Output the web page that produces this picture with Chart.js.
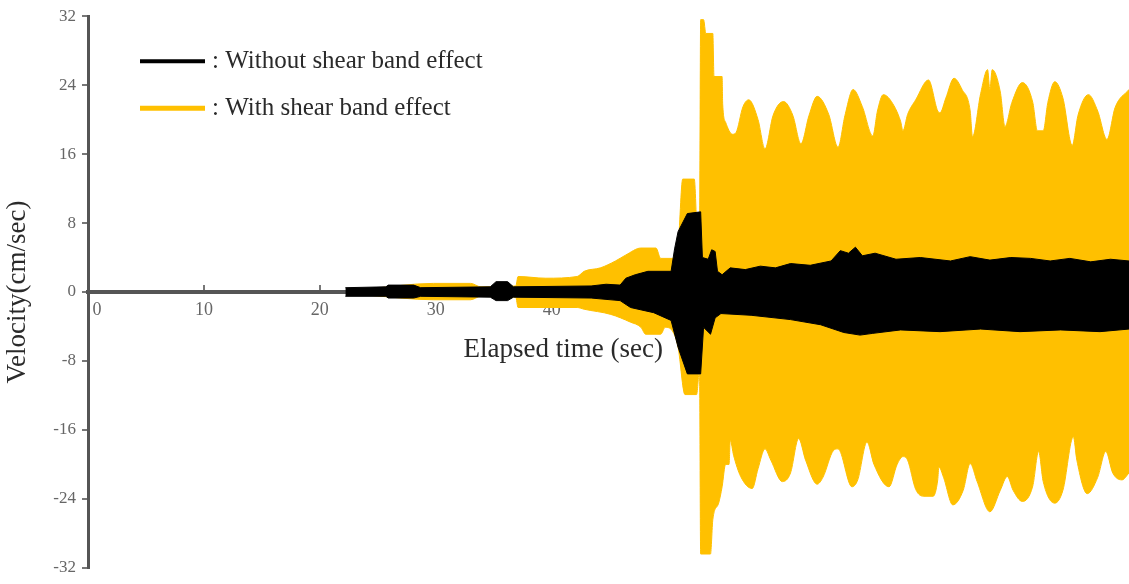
<!DOCTYPE html>
<html><head><meta charset="utf-8">
<script src="https://cdn.jsdelivr.net/npm/chart.js@4.4.1/dist/chart.umd.min.js"></script>
<style>html,body{margin:0;padding:0;background:#fff;overflow:hidden;}</style>
</head><body>
<canvas id="c" width="1129" height="584"></canvas>
<script>
// ---- data (envelopes of the velocity histories) ----
const yTickValues = [-32, -24, -16, -8, 0, 8, 16, 24, 32];
const xTickValues = [0, 10, 20, 30, 40, 50, 60, 70, 80];
const seriesNames = [': Without shear band effect', ': With shear band effect'];
const xTitle = 'Elapsed time (sec)';
const yTitle = 'Velocity(cm/sec)';

// Without shear band effect (black)
const blackUpperT = [22.2,25.7,25.9,28.1,28.7,34.7,35.2,36.2,36.7,43.4,44.7,45.9,46.4,47.2,48.3,50.3,50.6,50.9,51.7,52.85,53.0,53.5,53.8,54.1,54.3,54.7,55.4,56.7,58.0,59.3,60.6,62.3,64.1,64.9,65.6,66.2,66.8,67.9,69.7,71.8,74.4,76.1,77.8,79.6,81.3,83.0,84.7,86.5,88.2,89.8];
const blackUpperV = [0.5,0.6,0.8,0.8,0.5,0.6,1.2,1.2,0.6,0.7,0.9,0.8,1.6,2.0,2.4,2.4,5,7,9.1,9.3,4,3.8,4.9,4.7,2.4,2.0,2.8,2.6,3.0,2.8,3.3,3.1,3.6,4.8,4.5,5.2,4.2,4.5,3.8,4.0,3.6,4.1,3.7,4.0,3.9,3.6,3.9,3.5,3.8,3.6];
const blackLowerT = [22.2,25.7,25.9,28.1,28.7,34.7,35.2,36.2,36.7,43.4,45.9,46.8,48.8,50.3,50.9,51.7,52.85,53.1,53.7,54.1,54.6,57.2,60.6,63.2,65.2,66.6,67.7,70.1,73.5,77.0,80.4,83.9,87.3,89.8];
const blackLowerV = [-0.5,-0.5,-0.7,-0.7,-0.5,-0.6,-1.0,-1.0,-0.6,-0.7,-1.0,-1.8,-2.4,-3.3,-6.4,-9.5,-9.5,-4.1,-4.9,-3.0,-2.5,-2.7,-3.2,-3.8,-4.7,-5.0,-4.8,-4.4,-4.6,-4.3,-4.6,-4.4,-4.6,-4.3];

// With shear band effect (yellow)
const yellowUpperT = [24.4,29.8,33.0,33.9,36.9,37.1,39.5,42.2,42.8,44.2,45.5,46.4,47.7,49.0,49.4,50.3,50.9,51.3,52.3,52.6,52.75,52.85,53.1,53.3,53.9,54.0,54.7,54.75,55.0,55.6,55.9,56.5,57.0,57.8,58.4,59.1,60.0,60.8,61.5,62.2,62.9,63.9,64.7,65.3,66.0,66.8,67.7,68.1,68.6,69.2,70.1,70.3,70.7,71.4,72.5,73.3,73.5,74.0,74.7,75.4,76.1,76.3,77.0,77.6,77.8,78.0,78.7,79.1,79.7,80.6,81.5,81.9,82.4,82.8,83.4,84.1,84.9,85.4,86.3,87.1,87.9,88.6,89.8];
const yellowUpperV = [0.4,1.0,1.0,0.6,0.7,1.8,1.6,1.8,2.4,2.8,3.6,4.3,5.1,5.1,3.9,3.9,5.5,13.1,13.1,6,6,31.6,31.6,30,30,25,25,21.8,19.7,18.3,18.5,21.5,22.3,20,16.6,20.5,22.1,20.5,17.2,20.5,22.7,20.6,16.8,20.5,23.5,21.5,18.1,21,22.9,22.3,19.8,18.7,20.6,22.3,24.6,21,20.8,22.5,24.8,23.5,21,18,23,25.8,23.5,25.8,23.2,19.2,22,24.3,22,18.7,18.7,22,24.4,22.5,17,20.5,22.9,21,17.7,21.4,23.5];
const yellowLowerT = [24.4,29.8,33.0,33.9,36.9,37.1,42.2,42.8,45.1,46.8,47.7,48.1,49.4,49.8,50.4,50.9,51.5,52.5,52.75,52.85,53.7,53.9,54.4,54.7,55.0,55.3,55.4,55.7,56.3,57.3,57.8,58.4,58.9,59.9,60.6,61.3,61.9,62.9,63.4,64.3,64.7,65.9,66.4,67.2,67.8,69.1,69.8,70.3,70.7,71.4,72.1,72.9,73.3,73.4,73.8,74.6,75.5,76.1,76.7,77.8,78.7,79.3,79.8,80.6,81.5,82.0,82.4,83.4,84.1,85.0,85.3,86.2,87.1,87.8,88.4,89.2,89.8];
const yellowLowerV = [-0.4,-0.9,-0.9,-0.5,-0.6,-1.8,-1.8,-2.0,-2.6,-3.5,-4.1,-4.9,-4.9,-4.1,-4.5,-6.4,-11.9,-11.9,-9,-30.4,-30.4,-26.4,-24.5,-22.6,-20,-20,-17.2,-19,-21.4,-22.8,-20.5,-18.2,-19.5,-22,-21,-17,-19.5,-22.3,-21.5,-18.4,-18.2,-22.6,-21.8,-17.4,-20,-22.6,-20,-19.1,-19.5,-22.9,-23.7,-23.7,-21.8,-20.3,-21.5,-24.7,-23,-19.9,-22,-25.5,-23,-21.4,-23,-24.3,-22.5,-18.5,-22,-24.5,-23,-16.8,-19.5,-23.4,-21.5,-18.5,-21,-21.8,-21];

const BLACK = '#000000';
const GOLD = '#FFC000';
const SERIF = '"Liberation Serif", "DejaVu Serif", serif';

function pts(ts, vs) { return ts.map((t, i) => ({ x: t, y: vs[i] })); }
function band(name, ts, vs, color, smooth) {
  const ds = { label: name, data: pts(ts, vs), borderColor: color, backgroundColor: color,
    borderWidth: 1, pointRadius: 0, pointHoverRadius: 0, tension: 0, fill: 'origin' };
  if (smooth) { ds.cubicInterpolationMode = 'monotone'; }
  return ds;
}

const extras = {
  id: 'extras',
  beforeDatasetsDraw(chart) {
    const { ctx, scales: { x, y } } = chart;
    ctx.save();
    ctx.font = '27px ' + SERIF;
    ctx.fillStyle = '#2a2a2a';
    ctx.textAlign = 'left';
    ctx.textBaseline = 'middle';
    ctx.fillText(xTitle, x.getPixelForValue(32.4), y.getPixelForValue(-6.7));
    ctx.restore();
  },
  afterDraw(chart) {
    const { ctx, chartArea } = chart;
    const colors = [BLACK, GOLD];
    const widths = [4, 5];
    ctx.save();
    ctx.font = '25px ' + SERIF;
    ctx.textAlign = 'left';
    ctx.textBaseline = 'middle';
    seriesNames.forEach((name, i) => {
      const yy = chartArea.top + 45 + i * 47;
      const x0 = chartArea.left + 52;
      ctx.strokeStyle = colors[i];
      ctx.lineWidth = widths[i];
      ctx.beginPath();
      ctx.moveTo(x0, yy);
      ctx.lineTo(x0 + 65, yy);
      ctx.stroke();
      ctx.fillStyle = '#2a2a2a';
      ctx.fillText(name, x0 + 72, yy);
    });
    ctx.restore();
  }
};

new Chart(document.getElementById('c'), {
  type: 'line',
  data: {
    datasets: [
      band(seriesNames[0], blackUpperT, blackUpperV, BLACK, false),
      band(seriesNames[0], blackLowerT, blackLowerV, BLACK, false),
      band(seriesNames[1], yellowUpperT, yellowUpperV, GOLD, true),
      band(seriesNames[1], yellowLowerT, yellowLowerV, GOLD, true)
    ]
  },
  options: {
    responsive: false,
    animation: false,
    events: [],
    layout: { padding: { top: 15, bottom: 11, left: 0, right: 0 } },
    plugins: { legend: { display: false }, tooltip: { enabled: false } },
    scales: {
      x: {
        type: 'linear',
        position: { y: 0 },
        min: 0,
        max: 89.8,
        afterBuildTicks(scale) { scale.ticks = xTickValues.map(v => ({ value: v })); },
        grid: { display: true, drawOnChartArea: false, drawTicks: true, tickLength: -9, color: '#777', lineWidth: 2 },
        border: { display: true, color: '#555', width: 4 },
        ticks: {
          padding: 16,
          color: '#666',
          font: { family: SERIF, size: 18 },
          maxRotation: 0,
          autoSkip: false,
          callback: (v) => v === 0 ? '\u2002\u20020' : String(v)
        }
      },
      y: {
        type: 'linear',
        position: 'left',
        min: -32,
        max: 32,
        afterBuildTicks(scale) { scale.ticks = yTickValues.map(v => ({ value: v })); },
        afterFit(scale) { scale.width = 88; },
        grid: { display: true, drawOnChartArea: false, drawTicks: true, tickLength: 6, color: '#777', lineWidth: 2 },
        border: { display: true, color: '#555', width: 3 },
        ticks: { padding: 6, color: '#666', font: { family: SERIF, size: 17 } },
        title: { display: true, text: yTitle, color: '#2a2a2a', font: { family: SERIF, size: 27 }, padding: { top: 2, bottom: 0 } }
      }
    }
  },
  plugins: [extras]
});
</script>
</body></html>
